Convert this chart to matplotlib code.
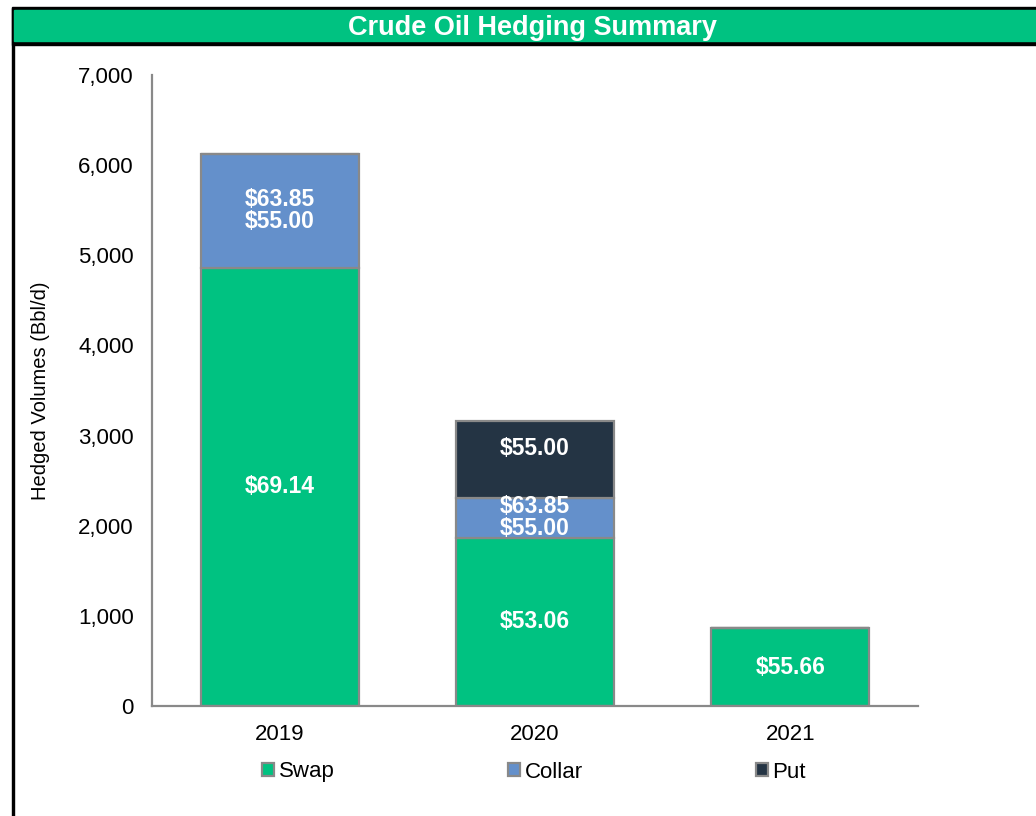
import matplotlib.pyplot as plt
import numpy as np
from matplotlib.patches import Rectangle

plt.rcParams['font.family'] = ['Liberation Sans', 'DejaVu Sans']

# data (Bbl/d)
years = ['2019', '2020', '2021']
swap = [4860, 1865, 865]
collar = [1265, 445, 0]
put = [0, 855, 0]

swap_lbl = ['$69.14', '$53.06', '$55.66']
collar_lbl = ['$63.85\n$55.00', '$63.85\n$55.00', '']
put_lbl = ['', '$55.00\n', '']

green = '#00C281'
blue = '#6490CB'
navy = '#243444'
edge = '#898989'

fig = plt.figure(figsize=(10.36, 8.16), dpi=100)

# frame + title band
fig.patches.append(Rectangle((11.5/1036, 0), 2.5/1036, 1 - 8/816, transform=fig.transFigure,
                             color='black', zorder=0))
fig.patches.append(Rectangle((11.5/1036, 1 - 45/816), 1, 38/816, transform=fig.transFigure,
                             color='black', zorder=0))
fig.patches.append(Rectangle((14/1036, 1 - 41/816), 1, 31/816, transform=fig.transFigure,
                             color=green, zorder=1))
fig.text(533/1036, 1 - 28/816, 'Crude Oil Hedging Summary', color='white', fontsize=19.5,
         fontweight='bold', ha='center', va='center')

ax = fig.add_axes([152/1036, 1 - 706/816, (918 - 152)/1036, (706 - 75)/816])

x = np.arange(len(years))
w = 0.62
kw = dict(width=w, edgecolor=edge, linewidth=1.6)
b1 = ax.bar(x, swap, color=green, label='Swap', **kw)
b2 = ax.bar(x, collar, bottom=swap, color=blue, label='Collar', **kw)
bottom2 = np.array(swap) + np.array(collar)
b3 = ax.bar(x, put, bottom=bottom2, color=navy, label='Put', **kw)
for bars, labels in [(b1, swap_lbl), (b2, collar_lbl), (b3, put_lbl)]:
    ax.bar_label(bars, labels=labels, label_type='center', color='white',
                 fontsize=16.5, fontweight='bold', linespacing=0.95)

ax.set_xlim(-0.5, 2.5)
ax.set_ylim(0, 7000)
ax.set_yticks(range(0, 7001, 1000))
ax.yaxis.set_major_formatter(plt.FuncFormatter(lambda v, p: f'{int(v):,}'))
ax.set_xticks(x, years)
ax.tick_params(axis='both', length=0, labelsize=16)
ax.tick_params(axis='y', pad=13)
ax.tick_params(axis='x', pad=13)
for s in ['top', 'right']:
    ax.spines[s].set_visible(False)
for s in ['left', 'bottom']:
    ax.spines[s].set_color(edge)
    ax.spines[s].set_linewidth(1.6)
ax.set_ylabel('Hedged Volumes (Bbl/d)', fontsize=14.5, labelpad=20)

fig.legend(handles=[b1, b2, b3], loc='center', bbox_to_anchor=(534/1036, 1 - 772/816),
           ncol=3, frameon=False, fontsize=16, handlelength=0.55, handleheight=0.55,
           handletextpad=0.2, columnspacing=7.8, borderaxespad=0)

fig.savefig('out.png', dpi=100)
